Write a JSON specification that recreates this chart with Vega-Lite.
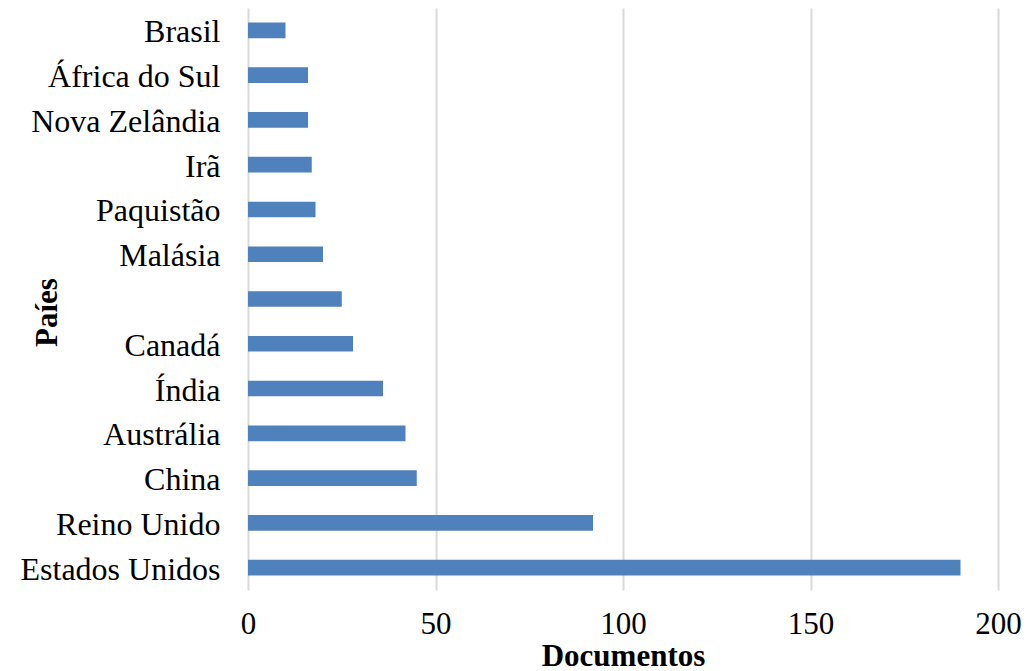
{
  "$schema": "https://vega.github.io/schema/vega-lite/v6.json",
  "width": 750,
  "height": 582,
  "autosize": {"type": "none"},
  "padding": {"left": 248, "top": 8, "right": 30, "bottom": 81},
  "background": "white",
  "config": {
    "view": {"stroke": null},
    "font": "Liberation Serif"
  },
  "data": {
    "values": [
      {"pais": "Brasil", "documentos": 10},
      {"pais": "África do Sul", "documentos": 16},
      {"pais": "Nova Zelândia", "documentos": 16},
      {"pais": "Irã", "documentos": 17},
      {"pais": "Paquistão", "documentos": 18},
      {"pais": "Malásia", "documentos": 20},
      {"pais": "", "documentos": 25},
      {"pais": "Canadá", "documentos": 28},
      {"pais": "Índia", "documentos": 36},
      {"pais": "Austrália", "documentos": 42},
      {"pais": "China", "documentos": 45},
      {"pais": "Reino Unido", "documentos": 92},
      {"pais": "Estados Unidos\u2005", "documentos": 190}
    ]
  },
  "mark": {"type": "bar", "color": "#4F81BD"},
  "encoding": {
    "y": {
      "field": "pais",
      "type": "nominal",
      "sort": null,
      "scale": {"paddingInner": 0.65, "paddingOuter": 0.325},
      "axis": {
        "title": "Paíes",
        "titleFont": "Liberation Serif",
        "titleFontSize": 31,
        "titleFontWeight": "bold",
        "titleColor": "black",
        "titleAngle": -90,
        "titleAlign": "center",
        "titleBaseline": "middle",
        "titleX": -201,
        "titleY": 304,
        "labelFont": "Liberation Serif",
        "labelFontSize": 32,
        "labelColor": "black",
        "labelPadding": 28,
        "labelOffset": 2,
        "labelLimit": 0,
        "ticks": false,
        "domain": false,
        "grid": false
      }
    },
    "x": {
      "field": "documentos",
      "type": "quantitative",
      "scale": {"domain": [0, 200], "nice": false},
      "axis": {
        "title": "Documentos",
        "titleFont": "Liberation Serif",
        "titleFontSize": 31,
        "titleFontWeight": "bold",
        "titleColor": "black",
        "titleBaseline": "middle",
        "titleY": 66,
        "values": [0, 50, 100, 150, 200],
        "labelFont": "Liberation Serif",
        "labelFontSize": 31,
        "labelColor": "black",
        "labelPadding": 19,
        "labelFlush": false,
        "ticks": false,
        "domain": false,
        "grid": true,
        "gridColor": "#D9D9D9",
        "gridWidth": 2
      }
    }
  }
}
